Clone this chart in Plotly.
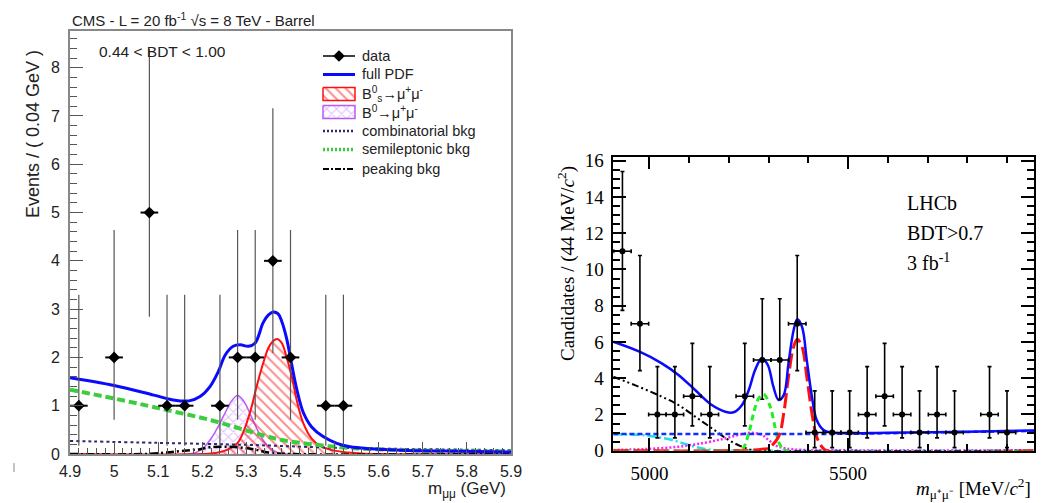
import plotly.graph_objects as go

W, H = 1042, 503

# ---------------- CMS panel data ----------------
cms_x = [4.92, 5.00, 5.08, 5.12, 5.16, 5.24, 5.28, 5.32, 5.36, 5.40, 5.48, 5.52]
cms_n = [1, 2, 5, 1, 1, 1, 2, 2, 4, 2, 1, 1]
cms_err_hi = [2.30, 2.64, 3.38, 2.30, 2.30, 2.30, 2.64, 2.64, 3.16, 2.64, 2.30, 2.30]
cms_err_lo = [0.83, 1.29, 2.16, 0.83, 0.83, 0.83, 1.29, 1.29, 1.91, 1.29, 0.83, 0.83]
cms_bin_half = [0.02] * len(cms_x)

cms_full_x = [4.90, 5.00, 5.09, 5.134, 5.17, 5.195, 5.217, 5.236, 5.252, 5.27, 5.286, 5.305, 5.32,
              5.338, 5.35, 5.361, 5.372, 5.38, 5.391, 5.403, 5.414, 5.429, 5.448, 5.474, 5.505,
              5.535, 5.58, 5.65, 5.75, 5.90]
cms_full_y = [1.58, 1.42, 1.22, 1.12, 1.10, 1.19, 1.39, 1.70, 2.05, 2.23, 2.26, 2.23, 2.30,
              2.72, 2.88, 2.94, 2.90, 2.75, 2.40, 1.84, 1.35, 0.86, 0.56, 0.36, 0.22,
              0.15, 0.11, 0.08, 0.06, 0.04]

cms_bs_x = [4.90, 5.20, 5.23, 5.255, 5.28, 5.295, 5.31, 5.323, 5.338, 5.353, 5.369, 5.38, 5.391,
            5.403, 5.414, 5.429, 5.448, 5.467, 5.49, 5.52, 5.56, 5.60, 5.90]
cms_bs_y = [0.0, 0.0, 0.02, 0.08, 0.23, 0.50, 0.92, 1.39, 1.88, 2.25, 2.38, 2.30, 2.01,
            1.60, 1.12, 0.64, 0.32, 0.17, 0.09, 0.04, 0.01, 0.0, 0.0]

cms_bd_x = [4.90, 5.17, 5.19, 5.205, 5.22, 5.235, 5.25, 5.265, 5.28, 5.295, 5.31, 5.325, 5.34,
            5.355, 5.37, 5.39, 5.90]
cms_bd_y = [0.0, 0.0, 0.05, 0.15, 0.32, 0.55, 0.82, 1.08, 1.21, 1.08, 0.80, 0.50, 0.26,
            0.11, 0.03, 0.0, 0.0]

cms_comb_x = [4.90, 5.10, 5.30, 5.50, 5.70, 5.90]
cms_comb_y = [0.27, 0.23, 0.19, 0.13, 0.10, 0.08]

cms_semi_x = [4.90, 5.00, 5.10, 5.22, 5.31, 5.38, 5.46, 5.54, 5.70, 5.90]
cms_semi_y = [1.33, 1.15, 0.95, 0.70, 0.46, 0.29, 0.19, 0.12, 0.07, 0.05]

cms_peak_x = [4.90, 5.07, 5.14, 5.195, 5.217, 5.28, 5.32, 5.35, 5.40, 5.90]
cms_peak_y = [0.0, 0.0, 0.05, 0.10, 0.14, 0.14, 0.09, 0.03, 0.0, 0.0]

cms_legend_labels = ["data", "full PDF", "B<sup>0</sup><sub>s</sub>→μ<sup>+</sup>μ<sup>-</sup>",
                     "B<sup>0</sup>→μ<sup>+</sup>μ<sup>-</sup>", "combinatorial bkg",
                     "semileptonic bkg", "peaking bkg"]

# ---------------- LHCb panel data ----------------
lhcb_x = [4932, 4976, 5020, 5064, 5108, 5152, 5240, 5284, 5328, 5372, 5416, 5460, 5504,
          5548, 5592, 5636, 5680, 5724, 5768, 5856, 5900]
lhcb_n = [11, 7, 2, 2, 3, 2, 3, 5, 5, 7, 1, 1, 1, 2, 3, 2, 1, 2, 1, 2, 1]
lhcb_err_hi = [4.40, 3.77, 2.64, 2.64, 2.92, 2.64, 2.92, 3.38, 3.38, 3.77, 2.30, 2.30, 2.30,
               2.64, 2.92, 2.64, 2.30, 2.64, 2.30, 2.64, 2.30]
lhcb_err_lo = [3.26, 2.58, 1.29, 1.29, 1.63, 1.29, 1.63, 2.16, 2.16, 2.58, 0.83, 0.83, 0.83,
               1.29, 1.63, 1.29, 0.83, 1.29, 0.83, 1.29, 0.83]
lhcb_bin_half = [22] * len(lhcb_x)

lhcb_full_x = [4909, 4975, 5031, 5073, 5115, 5157, 5191, 5212, 5233, 5250, 5266, 5283, 5298,
               5312, 5325, 5338, 5350, 5363, 5372, 5384, 5396, 5409, 5421, 5438, 5459, 5484,
               5600, 5800, 5968]
lhcb_full_y = [6.01, 5.46, 4.82, 4.18, 3.35, 2.52, 2.15, 2.12, 2.52, 3.35, 4.45, 5.10, 4.73,
               3.53, 2.80, 3.07, 4.82, 6.66, 7.25, 6.84, 5.00, 2.98, 1.69, 1.14, 0.99, 0.96,
               0.99, 1.05, 1.12]

lhcb_comb_x = [4909, 5200, 5484, 5700, 5968]
lhcb_comb_y = [0.92, 0.92, 0.93, 1.00, 1.09]

lhcb_misid_x = [4909, 4973, 5031, 5073, 5115, 5157, 5199, 5233, 5258, 5290, 5968]
lhcb_misid_y = [4.08, 3.53, 2.98, 2.52, 1.88, 1.24, 0.59, 0.22, 0.04, 0.0, 0.0]

lhcb_cyan_x = [4909, 4970, 5015, 5057, 5099, 5140, 5180, 5220, 5968]
lhcb_cyan_y = [0.90, 0.88, 0.77, 0.59, 0.31, 0.09, 0.01, 0.0, 0.0]

lhcb_mag_x = [4909, 4989, 5073, 5140, 5191, 5233, 5258, 5283, 5300, 5316, 5341, 5391, 5500, 5968]
lhcb_mag_y = [0.04, 0.09, 0.22, 0.44, 0.68, 0.92, 0.99, 0.87, 0.59, 0.31, 0.13, 0.04, 0.02, 0.02]

lhcb_bd_x = [4909, 5220, 5233, 5250, 5262, 5275, 5288, 5304, 5316, 5329, 5345, 5968]
lhcb_bd_y = [0.0, 0.0, 0.04, 0.96, 2.06, 2.89, 3.10, 2.43, 1.32, 0.31, 0.0, 0.0]

lhcb_bs_x = [4909, 5230, 5258, 5283, 5300, 5325, 5338, 5350, 5363, 5372, 5384, 5396, 5409,
             5421, 5434, 5446, 5968]
lhcb_bs_y = [0.0, 0.0, 0.03, 0.08, 0.15, 0.77, 2.06, 4.08, 5.74, 6.15, 5.74, 4.08, 2.06,
             0.77, 0.22, 0.0, 0.0]


def px(x):
    return x / W


def py(y):
    return (H - y) / H


SANS = "Liberation Sans, Arial, sans-serif"
SERIF = "Liberation Serif, Times New Roman, serif"

# styles
C_FULL = "#0a0aff"
C_BS = "#ff1010"
C_BD = "#b65cf5"
C_BD_HATCH = "#c27cff"
C_COMB = "#2a2a70"
C_SEMI = "#3dcc3d"
DASH_COMB = "3px,3px"
DASH_SEMI = "8px,4px"
DASH_PEAK = "8px,3px,2px,3px"
BS_PATTERN = dict(shape="\\", fgcolor="#ff2020", bgcolor="rgba(255,255,255,0)", size=7, solidity=0.3)
BD_PATTERN = dict(shape="x", fgcolor=C_BD_HATCH, bgcolor="rgba(255,255,255,0)", size=7, solidity=0.3)

fig = go.Figure()

# ---- CMS traces ----
fig.add_trace(go.Scatter(x=cms_bd_x, y=cms_bd_y, mode="lines", line=dict(color=C_BD, width=1.5),
                         fill="tozeroy", fillcolor="rgba(0,0,0,0)", fillpattern=BD_PATTERN,
                         line_shape="spline", xaxis="x", yaxis="y"))
fig.add_trace(go.Scatter(x=cms_bs_x, y=cms_bs_y, mode="lines", line=dict(color=C_BS, width=2),
                         fill="tozeroy", fillcolor="rgba(0,0,0,0)", fillpattern=BS_PATTERN,
                         line_shape="spline", xaxis="x", yaxis="y"))
fig.add_trace(go.Scatter(x=cms_comb_x, y=cms_comb_y, mode="lines",
                         line=dict(color=C_COMB, width=2, dash=DASH_COMB), line_shape="spline",
                         xaxis="x", yaxis="y"))
fig.add_trace(go.Scatter(x=cms_semi_x, y=cms_semi_y, mode="lines",
                         line=dict(color=C_SEMI, width=4, dash=DASH_SEMI), line_shape="spline",
                         xaxis="x", yaxis="y"))
fig.add_trace(go.Scatter(x=cms_peak_x, y=cms_peak_y, mode="lines",
                         line=dict(color="black", width=2.5, dash=DASH_PEAK), line_shape="spline",
                         xaxis="x", yaxis="y"))
fig.add_trace(go.Scatter(x=cms_full_x, y=cms_full_y, mode="lines",
                         line=dict(color=C_FULL, width=3), line_shape="spline",
                         xaxis="x", yaxis="y"))
fig.add_trace(go.Scatter(x=cms_x, y=cms_n, mode="markers",
                         marker=dict(symbol="diamond", size=9, color="black"),
                         error_y=dict(type="data", array=cms_err_hi, arrayminus=cms_err_lo,
                                      color="#555555", thickness=1.2, width=0),
                         error_x=dict(type="data", array=cms_bin_half, color="black",
                                      thickness=2, width=0),
                         xaxis="x", yaxis="y"))

# ---- LHCb traces ----
def lhcb_line(xs, ys, color, width, dash):
    fig.add_trace(go.Scatter(x=xs, y=ys, mode="lines", line=dict(color=color, width=width, dash=dash),
                             line_shape="spline", xaxis="x2", yaxis="y2"))


lhcb_line(lhcb_cyan_x, lhcb_cyan_y, "#20e0e8", 2.5, "9px,3px,2px,3px")
lhcb_line(lhcb_mag_x, lhcb_mag_y, "#ff20ff", 2.5, "2px,2px")
lhcb_line(lhcb_misid_x, lhcb_misid_y, "black", 2, "7px,3px,2px,3px,2px,3px")
lhcb_line(lhcb_bd_x, lhcb_bd_y, "#22ee22", 3, "6px,4px")
lhcb_line(lhcb_bs_x, lhcb_bs_y, "#ff1010", 3, "15px,5px")
lhcb_line(lhcb_comb_x, lhcb_comb_y, "#1030ff", 2.5, "5px,3px")
lhcb_line(lhcb_full_x, lhcb_full_y, C_FULL, 2.5, "solid")

fig.add_trace(go.Scatter(x=lhcb_x, y=lhcb_n, mode="markers",
                         marker=dict(symbol="circle", size=6, color="black"),
                         error_y=dict(type="data", array=lhcb_err_hi, arrayminus=lhcb_err_lo,
                                      color="black", thickness=1.6, width=2),
                         error_x=dict(type="data", array=lhcb_bin_half, color="black",
                                      thickness=1.6, width=2),
                         xaxis="x2", yaxis="y2"))

# ---- CMS legend swatches (overlay axes in page pixels) ----
LX0, LX1, LXT = 323, 355, 360
LEG_Y = [56, 74.5, 94, 112, 131, 149.5, 169]


def leg_line(y, color, width, dash):
    fig.add_trace(go.Scatter(x=[LX0, LX1], y=[y, y], mode="lines",
                             line=dict(color=color, width=width, dash=dash), xaxis="x3", yaxis="y3"))


def leg_box(y, color, pattern):
    fig.add_trace(go.Scatter(x=[LX0, LX1, LX1, LX0, LX0], y=[y - 6.5, y - 6.5, y + 6.5, y + 6.5, y - 6.5],
                             mode="lines", line=dict(color=color, width=1.5), fill="toself",
                             fillcolor="rgba(0,0,0,0)", fillpattern=pattern, xaxis="x3", yaxis="y3"))


leg_line(LEG_Y[0], "black", 1.5, "solid")
fig.add_trace(go.Scatter(x=[(LX0 + LX1) / 2], y=[LEG_Y[0]], mode="markers",
                         marker=dict(symbol="diamond", size=9, color="black"), xaxis="x3", yaxis="y3"))
leg_line(LEG_Y[1], C_FULL, 3, "solid")
leg_box(LEG_Y[2], C_BS, BS_PATTERN)
leg_box(LEG_Y[3], C_BD, BD_PATTERN)
leg_line(LEG_Y[4], C_COMB, 2.5, "2px,2px")
leg_line(LEG_Y[5], C_SEMI, 3.5, "2px,2px")
leg_line(LEG_Y[6], "black", 2, "6px,2px,2px,2px")

cms_tick_font = dict(family=SANS, size=16, color="#222222")
lhcb_tick_font = dict(family=SERIF, size=19, color="black")

fig.update_layout(
    width=W, height=H,
    margin=dict(l=0, r=0, t=0, b=0, autoexpand=False),
    paper_bgcolor="white", plot_bgcolor="rgba(0,0,0,0)",
    showlegend=False,
    xaxis=dict(domain=[px(70), px(511)], range=[4.9, 5.9], tick0=4.9, dtick=0.1,
               ticks="inside", ticklen=12, tickwidth=1, tickcolor="#555555",
               minor=dict(dtick=0.02, tick0=4.9, ticks="inside", ticklen=6, tickwidth=1,
                          tickcolor="#555555", showgrid=False),
               showline=True, linecolor="#888888", linewidth=2, mirror=True,
               showgrid=False, zeroline=False, tickfont=cms_tick_font, ticklabelstandoff=2,
               anchor="y"),
    yaxis=dict(domain=[py(454), py(31)], range=[0, 8.76], tick0=0, dtick=1,
               ticks="inside", ticklen=13, tickwidth=1, tickcolor="#555555",
               minor=dict(dtick=0.2, tick0=0, ticks="inside", ticklen=7, tickwidth=1,
                          tickcolor="#555555", showgrid=False),
               showline=True, linecolor="#888888", linewidth=2, mirror=True,
               showgrid=False, zeroline=False, tickfont=cms_tick_font, ticklabelstandoff=5,
               anchor="x"),
    xaxis2=dict(domain=[px(613.3), px(1034)], range=[4909, 5968], tickvals=[5000, 5500],
                ticks="inside", ticklen=13, tickwidth=1.5, tickcolor="black",
                minor=dict(dtick=100, tick0=5000, ticks="inside", ticklen=7, tickwidth=1.5,
                           tickcolor="black", showgrid=False),
                showline=True, linecolor="black", linewidth=1.5, mirror="allticks",
                showgrid=False, zeroline=False, tickfont=lhcb_tick_font, ticklabelstandoff=5,
                anchor="y2"),
    yaxis2=dict(domain=[py(450.7), py(156.7)], range=[0, 16.22], tick0=0, dtick=2,
                ticks="inside", ticklen=13, tickwidth=1.5, tickcolor="black",
                minor=dict(dtick=0.5, tick0=0, ticks="inside", ticklen=7, tickwidth=1.5,
                           tickcolor="black", showgrid=False),
                showline=True, linecolor="black", linewidth=1.5, mirror="allticks",
                showgrid=False, zeroline=False, tickfont=lhcb_tick_font, ticklabelstandoff=4,
                anchor="x2"),
    xaxis3=dict(domain=[0, 1], range=[0, W], visible=False, anchor="y3", fixedrange=True),
    yaxis3=dict(domain=[0, 1], range=[H, 0], visible=False, anchor="x3", fixedrange=True),
)

ann = []
ann.append(dict(text="CMS - L = 20 fb<sup>-1</sup> √s = 8 TeV - Barrel", x=px(70), y=py(20),
                xanchor="left", yanchor="middle", font=dict(family=SANS, size=15, color="#222222")))
ann.append(dict(text="0.44 < BDT < 1.00", x=px(97), y=py(52), xanchor="left", yanchor="middle",
                font=dict(family=SANS, size=15.5, color="#222222")))
ann.append(dict(text="Events / ( 0.04 GeV )", x=px(33), y=py(134), textangle=-90,
                xanchor="center", yanchor="middle", font=dict(family=SANS, size=18, color="#222222")))
ann.append(dict(text="m<sub>μμ</sub> (GeV)", x=px(508), y=py(489.5), xanchor="right", yanchor="middle",
                font=dict(family=SANS, size=17, color="#222222")))
ann.append(dict(text="Candidates / (44 MeV/<i>c</i><sup>2</sup>)", x=px(566), y=py(264), textangle=-90,
                xanchor="center", yanchor="middle", font=dict(family=SERIF, size=19, color="black")))
ann.append(dict(text="<i>m</i><sub>μ⁺μ⁻</sub> [MeV/<i>c</i><sup>2</sup>]", x=px(1033), y=py(488),
                xanchor="right", yanchor="middle", font=dict(family=SERIF, size=19, color="black")))
ann.append(dict(text="LHCb", x=px(905), y=py(203), xanchor="left", yanchor="middle",
                font=dict(family=SERIF, size=20, color="black")))
ann.append(dict(text="BDT>0.7", x=px(905), y=py(233), xanchor="left", yanchor="middle",
                font=dict(family=SERIF, size=20, color="black")))
ann.append(dict(text="3 fb<sup>-1</sup>", x=px(905), y=py(262), xanchor="left", yanchor="middle",
                font=dict(family=SERIF, size=20, color="black")))
for lab, ly in zip(cms_legend_labels, LEG_Y):
    ann.append(dict(text=lab, x=px(LXT), y=py(ly), xanchor="left", yanchor="middle",
                    font=dict(family=SANS, size=14.5, color="#222222")))
for a in ann:
    a.update(xref="paper", yref="paper", showarrow=False)
fig.update_layout(annotations=ann)

fig.add_shape(type="line", xref="paper", yref="paper", x0=px(14), x1=px(14), y0=py(463), y1=py(472),
              line=dict(color="#888888", width=1))

fig.write_html("out.html", config={"displayModeBar": False},
               post_script="document.body.style.margin='0';document.body.style.overflow='hidden';")
